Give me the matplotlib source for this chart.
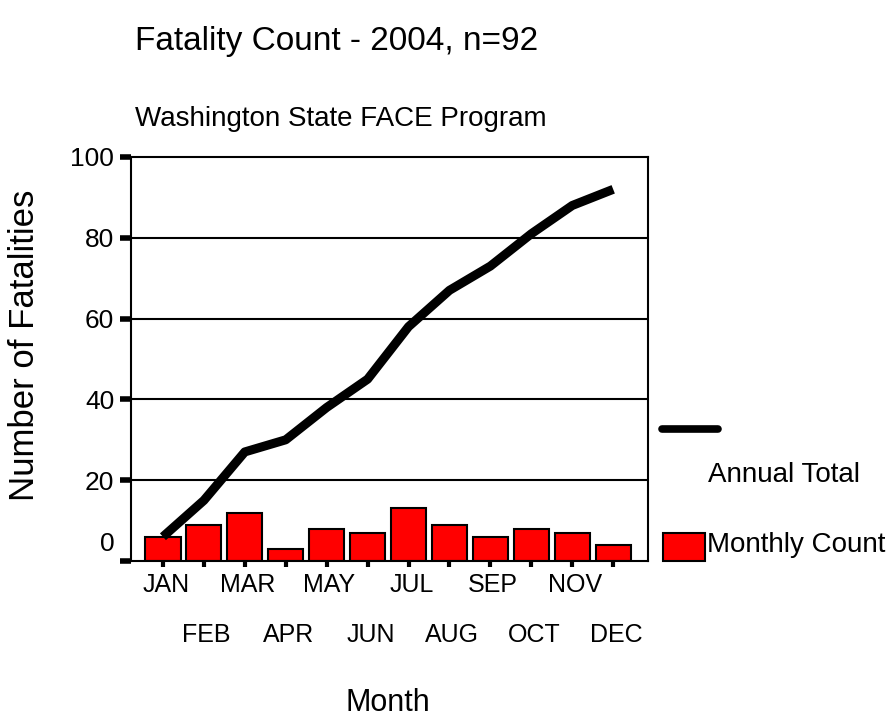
import matplotlib
matplotlib.use("Agg")
import matplotlib.pyplot as plt
from matplotlib.lines import Line2D
from matplotlib.patches import Rectangle

plt.rcParams['font.family'] = ['Liberation Sans', 'DejaVu Sans']

# data
months = ['JAN', 'FEB', 'MAR', 'APR', 'MAY', 'JUN',
          'JUL', 'AUG', 'SEP', 'OCT', 'NOV', 'DEC']
monthly_count = [6, 9, 12, 3, 8, 7, 13, 9, 6, 8, 7, 4]
annual_total = [6, 15, 27, 30, 38, 45, 58, 67, 73, 81, 88, 92]
y_ticks = [0, 20, 40, 60, 80, 100]

W, H = 890, 721
fig = plt.figure(figsize=(W / 100, H / 100), dpi=100)
# axes box in pixels: left 131, right 648, top 157, bottom 561
ax = fig.add_axes([131 / W, (H - 561) / H, (648 - 131) / W, (561 - 157) / H])

x = list(range(len(months)))

for v in y_ticks[1:-1]:
    ax.axhline(v, color='black', lw=1.5, zorder=1)

ax.bar(x, monthly_count, width=0.86, color='#ff0000', edgecolor='black',
       linewidth=1.5, zorder=2)
ax.plot(x, annual_total, color='black', lw=6.5, solid_capstyle='butt', zorder=3)

ax.set_xlim(-0.78, 11.85)
ax.set_ylim(0, 100)

for s in ax.spines.values():
    s.set_linewidth(1.5)
    s.set_color('black')

ax.set_yticks(y_ticks)
ax.set_yticklabels([''] + [str(v) for v in y_ticks[1:]])
ax.tick_params(axis='y', direction='out', length=8, width=4, pad=4, labelsize=19)
ax.annotate('0', xy=(0, 0), xycoords=('axes fraction', 'data'),
            xytext=(-12, 12), textcoords='offset points',
            ha='right', va='center', fontsize=19)

ax.set_xticks(x)
ax.set_xticklabels([])
ax.tick_params(axis='x', direction='out', length=4, width=3)

# staggered month labels
for i, m in enumerate(months):
    off = -17 if i % 2 == 0 else -53
    ax.annotate(m, xy=(i, 0), xycoords=('data', 'axes fraction'),
                xytext=(2, off), textcoords='offset points',
                ha='center', va='center', fontsize=18)

fig.text(135 / W, (H - 50) / H, 'Fatality Count - 2004, n=92',
         fontsize=24, ha='left', va='baseline')
fig.text(135 / W, (H - 126) / H, 'Washington State FACE Program',
         fontsize=20, ha='left', va='baseline')
fig.text(25 / W, (H - 345) / H, 'Number of Fatalities', rotation=90,
         fontsize=25, ha='center', va='center')
fig.text(388 / W, (H - 711) / H, 'Month', fontsize=22,
         ha='center', va='baseline')

# legend, drawn by hand to keep the original layout
fig.add_artist(Line2D([662 / W, 718 / W], [(H - 429) / H] * 2, color='black',
                      lw=5.5, solid_capstyle='round', transform=fig.transFigure))
fig.text(708 / W, (H - 475) / H, 'Annual Total', fontsize=20,
         ha='left', va='center')
fig.add_artist(Rectangle((663 / W, (H - 561) / H), 42 / W, 28 / H,
                         facecolor='#ff0000', edgecolor='black', lw=1.5,
                         transform=fig.transFigure))
fig.text(707 / W, (H - 545) / H, 'Monthly Count', fontsize=20,
         ha='left', va='center')

fig.savefig('out.png', dpi=100)
